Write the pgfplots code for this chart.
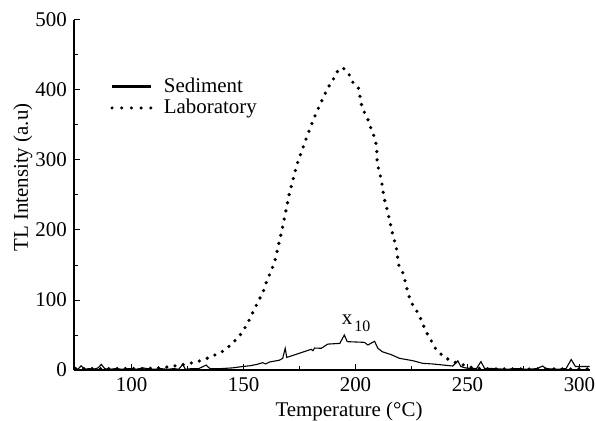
\documentclass[border=0pt]{standalone}
\usepackage{fontspec}
\setmainfont{Liberation Serif}
\usepackage{pgfplots}
\pgfplotsset{compat=1.18}

\begin{document}
\fontsize{21}{25}\selectfont
\begin{tikzpicture}
\useasboundingbox (-74bp,-51bp) rectangle (522bp,370bp);
\begin{axis}[
  at={(0,0)}, anchor=south west,
  scale only axis, width=516bp, height=350bp,
  xmin=74.3, xmax=304.7, ymin=0, ymax=500,
  axis lines*=left,
  axis line style={-, line width=1.6bp},
  tick align=inside,
  tick style={line width=1bp, black},
  major tick length=6bp, minor tick length=4bp,
  xtick={100,150,200,250,300}, minor x tick num=1,
  ytick={0,100,200,300,400,500}, minor y tick num=1,
  /pgf/number format/assume math mode=true,
  xlabel={Temperature (°C)},
  xlabel style={xshift=17bp, yshift=3bp},
  ylabel={TL Intensity (a.u)},
  ylabel style={at={(axis description cs:-0.099,0.55)}, anchor=center},
  clip=false,
  legend image code/.code={\draw[#1] (0bp,0bp) -- (39.2bp,0bp);},
  legend style={draw=none, fill=none, at={(axis description cs:0.07,0.842)},
    anchor=north west, inner sep=0pt, row sep=0pt,
    cells={anchor=west},
    /tikz/every odd column/.append style={column sep=9bp}},
  legend cell align=left,
]
% legend entries (thick line, widely spaced dots)
\addlegendimage{black, line width=2.8bp}
\addlegendentry{Sediment}
\addlegendimage{black, line width=3.4bp, line cap=round, dash pattern=on 0pt off 9.7bp}
\addlegendentry{Laboratory}

% Laboratory
\addplot[black, line width=3.6bp, line cap=round, dash pattern=on 0pt off 8.3bp, forget plot]
coordinates {
(75,2) (85,2) (95,2) (105,2) (113,3) (119.6,6) (123.5,8) (127.4,10.5) (131,13.5)
(134.8,18) (138,22.5) (141.5,28) (144.5,36.5) (146.8,44) (149,52) (151.5,65)
(153.4,77) (155,88) (157,101) (158.5,109) (160,124) (163.8,153) (167.5,205)
(170.5,253) (174,295) (178.6,336) (181.5,360) (184.4,381) (186,392) (187.6,403)
(189.9,414) (191.4,425) (194.3,432) (196.9,424) (198.5,412) (201.2,404)
(202.7,379) (204,368) (205.8,356) (207,344) (208.5,332) (209.4,320) (209.7,295)
(211.6,271) (212.6,248) (214.6,223) (216.2,199) (218.2,175) (219.3,150)
(221.1,139) (222.3,125) (223.3,112) (224.3,101) (226,90) (228.5,79) (229.4,70)
(230.8,60) (232.3,50) (234.5,38) (236,29) (238.7,21) (242,14) (245.7,9.5)
(249.4,6) (253,2.5) (260,1.5) (270,1.5) (280,1.5) (290,1.5) (304,1.5)
};

% Sediment
\addplot[black, line width=1.1bp, forget plot]
coordinates {
(74.5,3) (76,1) (77.5,6) (79,1) (81,2) (83,1) (85,3) (86.5,8) (88,2) (90,1)
(93,2) (96,1) (99,2) (102,1) (105,3) (107,2) (110,1) (113,2) (116,1) (119,2)
(121,1) (122.9,8) (124,1) (127,2) (130,2) (133.3,7) (135,2) (140,2) (145,3)
(149.7,5) (152.7,6) (156,8) (158.6,10.5) (159.8,8.6) (161.6,11.4) (166,14)
(167.5,16.7) (168.6,31) (169.3,18) (175,24) (180.2,29.5) (181,27.6)
(181.7,31.4) (184.7,31) (187.6,37) (193,38) (195,50) (196.3,40.5) (204,39.5)
(205.5,35.7) (208.5,41) (210,31) (212,26) (215.9,22) (219.6,16.7)
(225.6,13.3) (230,9.5) (234.5,8.6) (243.4,5.7) (245.7,13) (247,5) (249,3)
(250.9,2.4) (254,2) (256,12) (257.6,2.4) (262,2) (267,1) (272,2) (277,1)
(281,2) (283.6,5.7) (285,2) (290,1) (294,2) (296.3,15) (298.2,5) (304.5,5)
};

\node at (axis cs:196.2,72) {x};
\node at (axis cs:203.1,62) {\fontsize{16}{16}\selectfont 10};
\end{axis}
\end{tikzpicture}
\end{document}
